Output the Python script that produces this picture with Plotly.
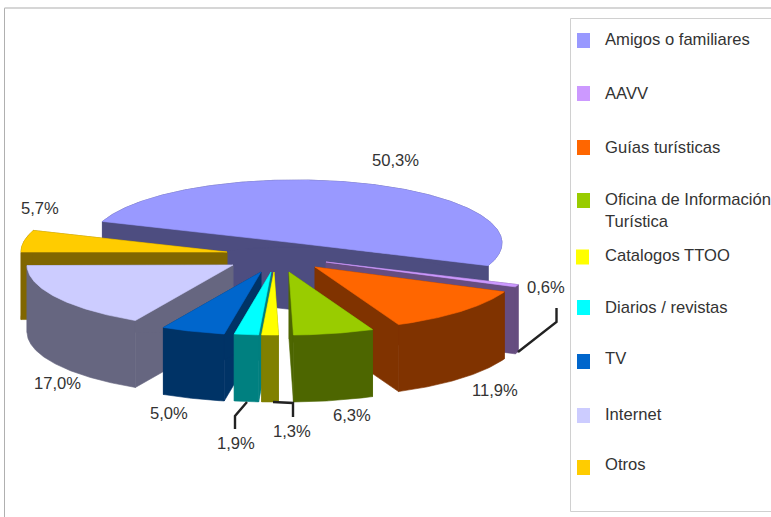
import math
import plotly.graph_objects as go

categories = ["Amigos o familiares", "AAVV", "Guías turísticas", "Oficina de Información<br>Turística",
              "Catalogos TTOO", "Diarios / revistas", "TV", "Internet", "Otros"]
shares = [50.3, 0.6, 11.9, 6.3, 1.3, 1.9, 5.0, 17.0, 5.7]
share_labels = ["50,3%", "0,6%", "11,9%", "6,3%", "1,3%", "1,9%", "5,0%", "17,0%", "5,7%"]

top_colors = ["#9999FF", "#CC99FF", "#FF6600", "#99CC00", "#FFFF00", "#00FFFF", "#0066CC", "#CCCCFF", "#FFCC00"]
wall_colors = ["#4D4D80", "#664D80", "#803300", "#4D6600", "#808000", "#008080", "#003366", "#666680", "#806600"]

# projection of the pie
CX, CY, RX, RY, DEPTH, START = 296, 243, 206, 63, 67, -70
explode = [(0, 0), (30, 19), (19, 24), (-7, 29), (-22, 29), (-25, 29), (-35, 29), (-63, 22), (-69, 9)]
draw_order = [0, 8, 7, 1, 2, 3, 6, 5, 4]

label_pos = [(395, 160), (546, 287), (495, 390), (352, 415), (292, 431), (236, 443), (169, 413), (57, 383), (40, 208)]
leaders = [[(518, 352), (556.5, 322), (556.5, 308)],
           [(247, 402), (235, 416), (235, 429)],
           [(273, 402), (293, 403), (293, 417)]]
legend_swatch = [(583.5, 40.5), (583.5, 93.5), (583.5, 147.5), (583.5, 200.5), (582.5, 257),
                 (583.5, 307.5), (583.5, 361.5), (583.5, 415.5), (583.5, 467.5)]
legend_text_y = [39.5, 93, 147.5, 210, 255.5, 307.5, 358, 414, 464]
legend_text_x = [602.5, 603, 602.5, 602.5, 603, 603, 603, 603, 603]
TEXT = "#333333"
FONT_SIZE = 16.6

# angle ranges from the shares
bounds = [START]
for s in shares:
    bounds.append(bounds[-1] + s * 3.6)


def arc(i):
    a0, a1 = bounds[i], bounds[i + 1]
    ax, ay = CX + explode[i][0], CY + explode[i][1]
    n = max(2, int(a1 - a0) * 2)
    pts = []
    for k in range(n + 1):
        t = math.radians(a0 + (a1 - a0) * k / n)
        pts.append((ax + RX * math.sin(t), ay - RY * math.cos(t)))
    return (ax, ay), pts


def poly_trace(pts, fill):
    return go.Scatter(x=[p[0] for p in pts], y=[p[1] for p in pts], mode="lines", fill="toself", fillcolor=fill,
                      line=dict(color=fill, width=0.6), hoverinfo="skip", showlegend=False)


def down(p):
    return (p[0], p[1] + DEPTH)


fig = go.Figure()

for i in draw_order:
    apex, pts = arc(i)
    fig.add_trace(poly_trace([apex, pts[0], down(pts[0]), down(apex), apex], wall_colors[i]))
    fig.add_trace(poly_trace([apex, pts[-1], down(pts[-1]), down(apex), apex], wall_colors[i]))
    fig.add_trace(poly_trace(pts + [down(p) for p in reversed(pts)] + [pts[0]], wall_colors[i]))
    fig.add_trace(poly_trace([apex] + pts + [apex], top_colors[i]))

# leader lines
for ln in leaders:
    fig.add_trace(go.Scatter(x=[p[0] for p in ln], y=[p[1] for p in ln], mode="lines",
                             line=dict(color="#222222", width=2.4), hoverinfo="skip", showlegend=False))

# legend swatches
for (x, y), c in zip(legend_swatch, top_colors):
    fig.add_shape(type="rect", x0=x - 6.5, x1=x + 6.5, y0=y - 7.5, y1=y + 7.5, fillcolor=c, line=dict(width=0))

for (x, y), t in zip(label_pos, share_labels):
    fig.add_annotation(x=x, y=y, text=t, showarrow=False, xanchor="center", yanchor="middle",
                       font=dict(family="Liberation Sans", size=FONT_SIZE, color=TEXT))
for x, y, t in zip(legend_text_x, legend_text_y, categories):
    fig.add_annotation(x=x, y=y, text=t, showarrow=False, xanchor="left", yanchor="middle", align="left",
                       font=dict(family="Liberation Sans", size=FONT_SIZE, color=TEXT))

# outer frame and legend box
fig.add_shape(type="line", x0=4.5, x1=4.5, y0=8, y1=517, line=dict(color="#B0B0B0", width=1))
fig.add_shape(type="line", x0=4.5, x1=771, y0=8, y1=8, line=dict(color="#C8C8C8", width=1.5))
fig.add_shape(type="line", x0=570.5, x1=570.5, y0=18.5, y1=511.5, line=dict(color="#D0D0D0", width=1))
fig.add_shape(type="line", x0=570.5, x1=771, y0=18.5, y1=18.5, line=dict(color="#D0D0D0", width=1))
fig.add_shape(type="line", x0=570.5, x1=771, y0=511.5, y1=511.5, line=dict(color="#D0D0D0", width=1))

fig.update_layout(width=771, height=517, margin=dict(l=0, r=0, t=0, b=0),
                  paper_bgcolor="white", plot_bgcolor="white", showlegend=False,
                  xaxis=dict(range=[0, 771], visible=False, fixedrange=True),
                  yaxis=dict(range=[517, 0], visible=False, fixedrange=True))

fig.write_html("out.html", config={"displayModeBar": False},
               post_script="document.body.style.margin='0';document.body.style.overflow='hidden';")
